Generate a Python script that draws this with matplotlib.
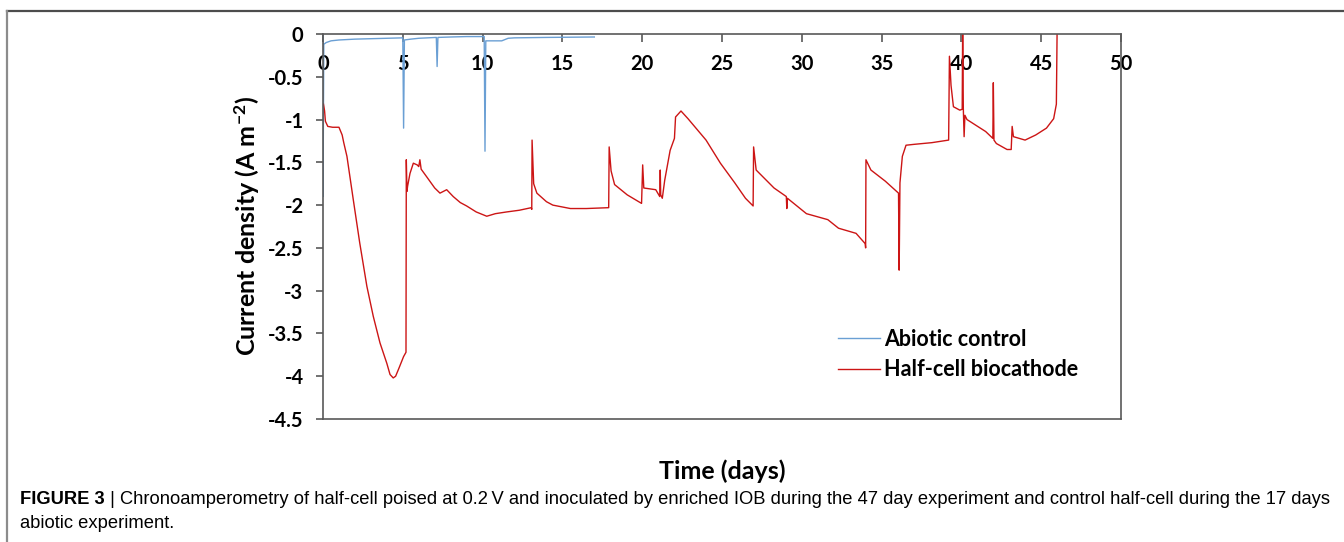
import matplotlib
matplotlib.use("Agg")
import matplotlib.pyplot as plt
from matplotlib.lines import Line2D
from matplotlib.ticker import FuncFormatter

plt.rcParams['font.family'] = ['Lato', 'DejaVu Sans']
plt.rcParams['axes.unicode_minus'] = False
plt.rcParams['mathtext.fontset'] = 'custom'
plt.rcParams['mathtext.rm'] = 'Lato:bold'
plt.rcParams['mathtext.default'] = 'regular'

# abiotic control (17 days)
t_abiotic = [0, 0, 0.05, 0.2, 0.5, 1, 2, 3, 4, 5.0, 5.05, 5.1, 5.5, 6, 7.1, 7.15, 7.2, 8, 9,
             10.1, 10.15, 10.2, 10.5, 11.2, 11.6, 12, 14, 17]
j_abiotic = [0, -1.9, -0.12, -0.1, -0.08, -0.07, -0.06, -0.055, -0.05, -0.045, -1.1, -0.07, -0.06,
             -0.05, -0.04, -0.38, -0.04, -0.035, -0.03, -0.03, -1.37, -0.08, -0.08, -0.08, -0.05,
             -0.045, -0.04, -0.035]

# half-cell biocathode (47 days)
t_bio = [0.03, 0.1, 0.15, 0.3, 0.6, 1.0, 1.2, 1.3, 1.5, 1.9, 2.3, 2.75, 3.15, 3.57, 4.0, 4.2, 4.4,
         4.55, 4.75, 5.05, 5.2, 5.22, 5.26, 5.3, 5.45, 5.66, 5.9, 6.0, 6.07, 6.15, 6.5, 7.0, 7.33,
         7.75, 8.16, 8.6, 9.0, 9.6, 10.26, 10.8, 11.5, 12.3, 13.05, 13.08, 13.1, 13.2, 13.4, 14.0,
         14.4, 15.5, 16.5, 17.9, 17.93, 18.05, 18.27, 19.06, 19.96, 20.03, 20.1, 20.85, 21.1,
         21.13, 21.16, 21.26, 21.41, 21.75, 22.02, 22.09, 22.43, 22.87, 24.0, 24.9, 25.8, 26.47,
         26.95, 26.98, 27.14, 28.26, 29.03, 29.06, 29.1, 30.29, 31.63, 32.3, 33.4, 33.97, 34.0,
         34.02, 34.33, 35.23, 36.06, 36.1, 36.15, 36.3, 36.53, 37.02, 38.15, 39.2, 39.25, 39.35,
         39.5, 39.9, 40.05, 40.08, 40.12, 40.17, 40.22, 40.35, 40.85, 41.52, 41.97, 42.0, 42.04,
         42.19, 42.86, 43.12, 43.18, 43.26, 43.99, 44.66, 45.33, 45.78, 45.95, 46.0]
j_bio = [-0.82, -0.9, -1.02, -1.08, -1.09, -1.09, -1.18, -1.27, -1.43, -1.94, -2.44, -2.95, -3.30,
         -3.61, -3.85, -3.98, -4.02, -4.0, -3.91, -3.77, -3.72, -1.47, -1.84, -1.78, -1.63, -1.51,
         -1.53, -1.55, -1.47, -1.58, -1.67, -1.80, -1.86, -1.82, -1.90, -1.97, -2.01, -2.08, -2.13,
         -2.10, -2.08, -2.06, -2.03, -2.05, -1.24, -1.75, -1.86, -1.96, -2.0, -2.04, -2.04, -2.03,
         -1.32, -1.60, -1.76, -1.88, -1.98, -1.53, -1.80, -1.82, -1.90, -1.59, -1.88, -1.92, -1.71,
         -1.36, -1.22, -0.97, -0.90, -0.99, -1.24, -1.51, -1.74, -1.92, -2.01, -1.32, -1.59, -1.80,
         -1.90, -2.04, -1.92, -2.10, -2.17, -2.27, -2.33, -2.45, -2.50, -1.47, -1.59, -1.72, -1.86,
         -2.76, -1.74, -1.43, -1.30, -1.29, -1.27, -1.24, -0.26, -0.60, -0.85, -0.89, -0.88, 0.1,
         -0.87, -1.2, -0.95, -1.0, -1.06, -1.14, -1.22, -0.57, -1.24, -1.28, -1.35, -1.35, -1.08,
         -1.2, -1.24, -1.18, -1.10, -0.99, -0.82, 0.1]

x_ticks = [0, 5, 10, 15, 20, 25, 30, 35, 40, 45, 50]
y_ticks = [-4.5, -4, -3.5, -3, -2.5, -2, -1.5, -1, -0.5, 0]

caption_bold = "FIGURE 3"
caption_rest = ("| Chronoamperometry of half-cell poised at 0.2\u2009V and inoculated by enriched IOB "
                "during the 47 day experiment and control half-cell during the 17 days")
caption_line2 = "abiotic experiment."

fig = plt.figure(figsize=(13.44, 5.42), dpi=100)
ax = fig.add_axes([323 / 1344, 1 - 419 / 542, 798 / 1344, 385 / 542])

ax.plot(t_abiotic, j_abiotic, color='#6a9fd4', lw=1.0, label='Abiotic control')
ax.plot(t_bio, j_bio, color='#cc1515', lw=1.0, label='Half-cell biocathode')

ax.set_xlim(0, 50)
ax.set_ylim(-4.5, 0)
ax.set_xticks(x_ticks)
ax.set_yticks(y_ticks)
ax.yaxis.set_major_formatter(FuncFormatter(lambda v, p: f"{v:g}"))

for s in ax.spines.values():
    s.set_color('#595959')
    s.set_linewidth(1.2)

ax.xaxis.tick_top()
ax.tick_params(axis='x', direction='in', length=6, width=1.2, color='#595959',
               pad=-29, labelsize=14.5)
ax.tick_params(axis='y', direction='out', length=5, width=1.2, color='#595959',
               pad=9, labelsize=14.5)
for lab in ax.get_xticklabels() + ax.get_yticklabels():
    lab.set_fontweight('bold')

ax.set_xlabel('Time (days)', fontsize=18, fontweight='bold')
ax.xaxis.set_label_position('bottom')
ax.xaxis.label.set_va('center')
ax.xaxis.set_label_coords(0.5, -0.135)
ax.set_ylabel('Current density (A m$^{-2}$)', fontsize=18, fontweight='bold')
ax.yaxis.label.set_va('center')
ax.yaxis.set_label_coords(-0.095, 0.5)

leg = ax.legend(loc='upper left', bbox_to_anchor=(827 / 1344, 1 - 318 / 542),
                bbox_transform=fig.transFigure, frameon=False, borderpad=0,
                handlelength=1.95, handletextpad=0.2, labelspacing=0.45,
                prop={'weight': 'bold', 'size': 15.5})

# caption frame
fig.add_artist(Line2D([7 / 1344, 1], [1 - 10.5 / 542] * 2, transform=fig.transFigure,
                      color='#4d4d4d', lw=1.6))
fig.add_artist(Line2D([7 / 1344] * 2, [0, 1 - 10.5 / 542], transform=fig.transFigure,
                      color='#8c8c8c', lw=1.6))

cap_font = ['Liberation Sans Narrow', 'Liberation Sans']
cap = fig.text(20 / 1344, 1 - 500 / 542, caption_bold, fontsize=13.2, fontweight='bold',
               va='center', family=cap_font)
ax.annotate(" " + caption_rest, xy=(1, 0.5), xycoords=cap, va='center', ha='left',
            fontsize=13.2, family=cap_font, annotation_clip=False)
fig.text(20 / 1344, 1 - 523 / 542, caption_line2, fontsize=13.2, va='center', family=cap_font)

fig.savefig('out.png', dpi=100)
